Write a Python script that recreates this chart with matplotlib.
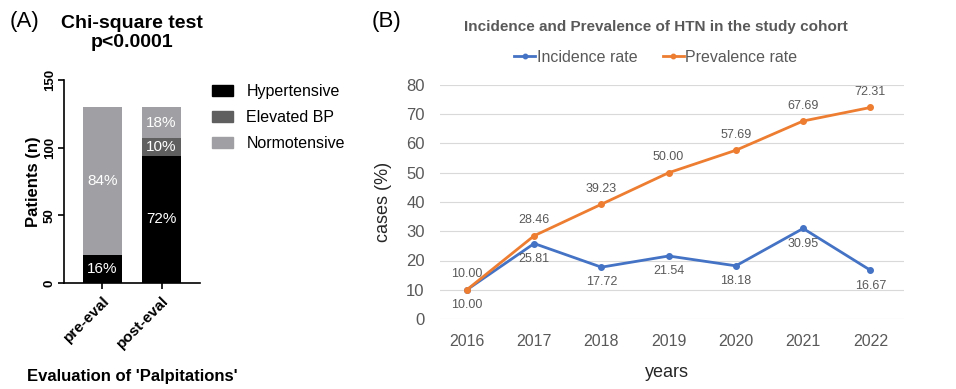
import numpy as np
import matplotlib
matplotlib.use("Agg")
import matplotlib.pyplot as plt
from matplotlib.patches import Patch

plt.rcParams["font.family"] = ["Liberation Sans", "DejaVu Sans"]

# panel A data
groups = ["pre-eval", "post-eval"]
hypertensive = [21, 94]
elevated = [0, 13]
normotensive = [109, 23]
pct_hyper = ["16%", "72%"]
pct_elev = ["", "10%"]
pct_normo = ["84%", "18%"]

# panel B data
years = ["2016", "2017", "2018", "2019", "2020", "2021", "2022"]
incidence = [10.00, 25.81, 17.72, 21.54, 18.18, 30.95, 16.67]
prevalence = [10.00, 28.46, 39.23, 50.00, 57.69, 67.69, 72.31]

C_HYP = "#000000"
C_ELEV = "#5f5f5f"
C_NORM = "#a0a0a4"
BLUE = "#4472c4"
ORANGE = "#ed7d31"
GREY_TXT = "#595959"

W, H = 956, 389
fig = plt.figure(figsize=(W / 100, H / 100), dpi=100)


def rect(l, t, r, b):
    return [l / W, 1 - b / H, (r - l) / W, (b - t) / H]


# ---------- panel A ----------
axA = fig.add_axes(rect(64, 80, 200, 283))
x = np.arange(len(groups))
bw = 0.66
axA.bar(x, hypertensive, bw, color=C_HYP)
axA.bar(x, elevated, bw, bottom=hypertensive, color=C_ELEV)
base2 = [h + e for h, e in zip(hypertensive, elevated)]
axA.bar(x, normotensive, bw, bottom=base2, color=C_NORM)

for i in range(len(groups)):
    axA.text(x[i], hypertensive[i] / 2, pct_hyper[i],
             ha="center", va="center", color="white", fontsize=11)
    if pct_elev[i]:
        axA.text(x[i], hypertensive[i] + elevated[i] / 2, pct_elev[i],
                 ha="center", va="center", color="white", fontsize=11)
    axA.text(x[i], base2[i] + normotensive[i] / 2, pct_normo[i],
             ha="center", va="center", color="white", fontsize=11)

axA.set_xlim(-0.65, 1.65)
axA.set_ylim(0, 150)
axA.set_yticks([0, 50, 100, 150])
axA.set_yticklabels(["0", "50", "100", "150"], rotation=90, va="center",
                    fontweight="bold", fontsize=9.5)
axA.set_xticks(x)
axA.set_xticklabels(groups, rotation=45, ha="right", rotation_mode="anchor",
                    fontweight="bold", fontsize=11)
for sp in ["top", "right"]:
    axA.spines[sp].set_visible(False)
for sp in ["left", "bottom"]:
    axA.spines[sp].set_linewidth(1.2)
axA.tick_params(width=1.2, length=4)
axA.tick_params(axis="y", pad=2)
axA.set_ylabel("Patients (n)", fontweight="bold", fontsize=12, labelpad=2)
axA.set_xlabel("Evaluation of 'Palpitations'", fontweight="bold", fontsize=12)
axA.xaxis.set_label_coords(0.5, -(369 - 283) / 203)
fig.text(132 / W, 1 - 33 / H, "Chi-square test\np<0.0001", ha="center", va="center",
         fontweight="bold", fontsize=14, linespacing=1.15)
fig.text(10 / W, 1 - 21 / H, "(A)", ha="left", va="center", fontsize=16)

handles = [Patch(color=C_HYP), Patch(color=C_ELEV), Patch(color=C_NORM)]
fig.legend(handles, ["Hypertensive", "Elevated BP", "Normotensive"],
           loc="upper left", bbox_to_anchor=(212 / W, 1 - 84 / H), frameon=False,
           fontsize=11.5, handlelength=1.3, handleheight=0.7, labelspacing=0.7,
           handletextpad=0.85, borderpad=0, borderaxespad=0)

# ---------- panel B ----------
axB = fig.add_axes(rect(440, 85, 904, 319))
xb = np.arange(len(years))
axB.plot(xb, incidence, color=BLUE, lw=2, marker="o", ms=4, label="Incidence rate")
axB.plot(xb, prevalence, color=ORANGE, lw=2, marker="o", ms=4, label="Prevalence rate")
for i in xb:
    axB.annotate(f"{incidence[i]:.2f}", (xb[i], incidence[i]), xytext=(0, -11),
                 textcoords="offset points", ha="center", va="center",
                 fontsize=9, color=GREY_TXT)
    axB.annotate(f"{prevalence[i]:.2f}", (xb[i], prevalence[i]), xytext=(0, 11),
                 textcoords="offset points", ha="center", va="center",
                 fontsize=9, color=GREY_TXT)

axB.set_xlim(-0.4, 6.5)
axB.set_ylim(0, 80)
axB.set_yticks(range(0, 81, 10))
axB.set_xticks(xb)
axB.set_xticklabels(years)
axB.grid(axis="y", color="#d9d9d9", lw=0.8)
axB.set_axisbelow(True)
for sp in axB.spines.values():
    sp.set_visible(False)
axB.tick_params(axis="y", length=0, labelsize=12, labelcolor=GREY_TXT, pad=11)
axB.tick_params(axis="x", length=0, labelsize=11.5, labelcolor=GREY_TXT, pad=11)
axB.set_ylabel("cases (%)", fontsize=13, color="#262626", labelpad=10)
axB.set_xlabel("years", fontsize=13, color="#262626")
axB.xaxis.set_label_coords(0.49, -(364 - 319) / 234)
fig.text(656 / W, 1 - 27 / H, "Incidence and Prevalence of HTN in the study cohort",
         ha="center", va="center", fontweight="bold", fontsize=11, color=GREY_TXT)
fig.text(372 / W, 1 - 21 / H, "(B)", ha="left", va="center", fontsize=16)
axB.legend(loc="center", bbox_to_anchor=(656 / W, 1 - 57 / H),
           bbox_transform=fig.transFigure, ncol=2, frameon=False, fontsize=11.5,
           labelcolor=GREY_TXT, handlelength=1.3, handletextpad=0.1,
           columnspacing=1.6, markerscale=0.8)

fig.savefig("out.png", dpi=100)
